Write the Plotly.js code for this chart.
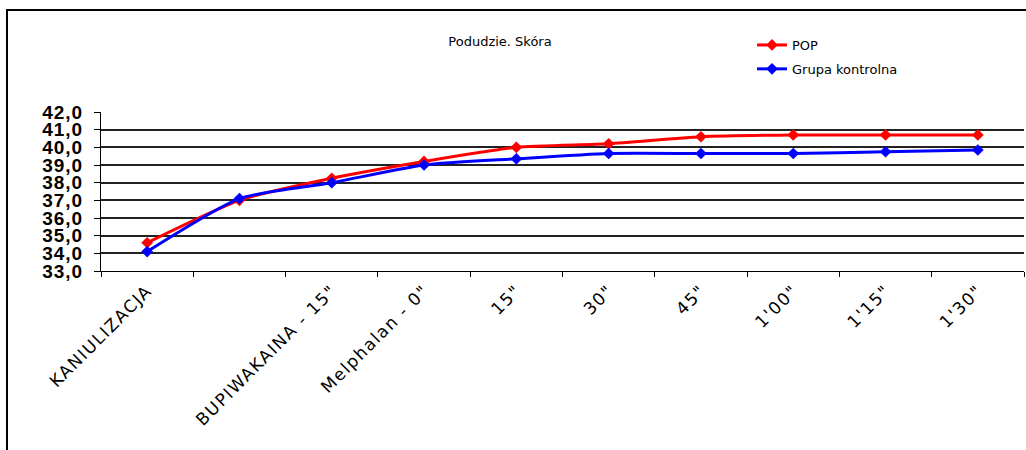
<!DOCTYPE html>
<html><head><meta charset="utf-8">
<script src="https://cdn.plot.ly/plotly-3.0.1.min.js"></script>
<style>
body{margin:0;background:#fff}
#wrap{position:relative;width:1026px;height:450px;overflow:hidden}
#frame{position:absolute;left:6px;top:9px;right:-4px;bottom:-4px;border-left:2px solid #000;border-top:2px solid #000;pointer-events:none}
#chart .xtick text{letter-spacing:1.5px}
#chart .ytick text{letter-spacing:1px}
</style>
</head><body>
<div id="wrap"><div id="chart" style="width:1026px;height:450px"></div><div id="frame"></div></div>
<script>
const categories = ['KANIULIZACJA', '', 'BUPIWAKAINA - 15"', 'Melphalan - 0"', '15"', '30"', '45"', "1'00\"", "1'15\"", "1'30\""];
const popValues = [34.6, 37.0, 38.25, 39.2, 40.0, 40.2, 40.6, 40.7, 40.7, 40.7];
const kontrolValues = [34.1, 37.1, 38.0, 39.0, 39.35, 39.65, 39.65, 39.65, 39.75, 39.85];
const yTicks = [33, 34, 35, 36, 37, 38, 39, 40, 41, 42];

const idx = categories.map((c, i) => i);
const bounds = categories.map((c, i) => i - 0.5).concat([categories.length - 0.5]);

const traces = [
  {x: idx, y: popValues, name: 'POP', type: 'scatter', mode: 'lines+markers', legendgroup: 'a',
   line: {color: '#FF0000', width: 3, shape: 'spline', smoothing: 0.6}, marker: {symbol: 'diamond', size: 9, color: '#FF0000'}},
  {x: idx, y: kontrolValues, name: 'Grupa kontrolna', type: 'scatter', mode: 'lines+markers', legendgroup: 'b',
   line: {color: '#0000FF', width: 3, shape: 'spline', smoothing: 0.6}, marker: {symbol: 'diamond', size: 9, color: '#0000FF'}}
];

const layout = {
  width: 1026, height: 450,
  margin: {l: 101, r: 2, t: 112, b: 179, autoexpand: false},
  paper_bgcolor: '#fff', plot_bgcolor: '#fff',
  separators: ', ',
  showlegend: true,
  title: {text: 'Podudzie. Skóra', font: {family: 'DejaVu Sans', size: 13, color: '#000'},
          xref: 'container', x: 500/1026, xanchor: 'center', yref: 'container', y: 1 - 41/450, yanchor: 'middle'},
  legend: {xref: 'container', x: 752/1026, xanchor: 'left', yref: 'container', y: 1 - 30/450, yanchor: 'top',
           font: {family: 'DejaVu Sans', size: 13, color: '#000'}, bgcolor: 'rgba(0,0,0,0)', borderwidth: 0,
           traceorder: 'grouped', tracegroupgap: 4},
  xaxis: {range: [-0.5, categories.length - 0.5], tickvals: idx, ticktext: categories, tickangle: -45,
          ticks: '', showgrid: false, zeroline: false, showline: true, linecolor: '#000', linewidth: 1,
          automargin: false, ticklabelstandoff: 2,
          tickfont: {family: 'DejaVu Sans', size: 17, color: '#000'},
          minor: {tickvals: bounds, ticks: 'outside', ticklen: 5, tickcolor: '#000', tickwidth: 1, showgrid: false}},
  yaxis: {range: [33, 42], tickvals: yTicks, tickformat: '.1f', ticks: 'outside', ticklen: 6, tickcolor: '#000',
          showline: true, linecolor: '#000', linewidth: 1, zeroline: false, automargin: false,
          ticklabelstandoff: 7,
          showgrid: true, gridcolor: '#222', gridwidth: 2,
          tickfont: {family: 'Liberation Sans', size: 19, color: '#000', weight: 'bold'}}
};

Plotly.newPlot('chart', traces, layout, {displayModeBar: false, staticPlot: true});
</script>
</body></html>
